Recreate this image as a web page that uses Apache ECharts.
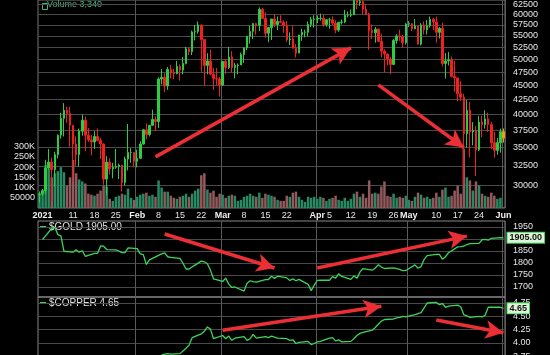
<!DOCTYPE html>
<html><head><meta charset="utf-8">
<script src="https://cdn.jsdelivr.net/npm/echarts@6.0.0/dist/echarts.min.js"></script>
<style>html,body{margin:0;padding:0;background:#000;}#chart{width:550px;height:355px;}</style>
</head><body><div id="chart"></div>
<script>
// ---------- DATA ----------
const firstDay = '2020-12-31';
// BTC daily OHLC, Dec 31 2020 .. Jun 1 2021
const btcOpen = [28900,
 29000,29400,32200,33000,32000,34000,36800,39400,40700,40200,38300,35500,34000,37400,39100,36800,36100,35800,36600,36000,35500,30800,33000,32100,32300,32400,32600,30400,33400,34300,34300,
 33100,33500,35500,37600,36900,38300,39200,38900,46200,46500,44900,48000,47400,47200,48600,47900,49200,52200,51600,55900,56000,57500,54200,48800,49700,47100,46300,46200,
 45100,49600,48400,50500,48400,48800,48900,51000,52400,54900,56000,57800,57400,61200,59000,55600,56900,58900,57600,58300,58100,57400,54100,54300,52300,51300,55200,55800,55800,57600,58800,
 58900,59000,59100,57600,58700,58700,57900,56300,58100,58200,59800,59800,59900,63500,62900,63200,61300,60000,56200,55700,56500,53800,51700,51100,50100,49000,54000,55000,54800,53500,
 57700,57800,56600,57200,53200,57500,56400,57300,58800,58200,55800,56700,49200,49700,49900,46700,46400,43500,42900,37000,40700,37300,37500,34700,38800,38400,39300,38400,35700,34600,35700,
 37300];
const btcHigh = [29300,
 29600,33300,34800,33600,34400,36900,40300,41900,41300,41300,38300,36600,37800,40000,39700,37900,36800,37400,37800,36400,35600,33800,33500,32900,34800,32800,32600,33700,38500,34900,34300,
 34700,35900,37700,38600,38300,40800,39700,46500,48100,47300,48500,48900,48100,49700,49000,50500,52600,52500,56200,57500,58300,57500,54200,51300,52000,48300,48300,46600,
 49700,50100,52600,51700,49300,49200,51400,52400,54900,57300,58000,58000,61700,61600,60500,56900,58900,60000,59500,59800,58600,58400,55800,57200,53200,55100,56600,56400,58300,59400,59800,
 59700,60200,59900,58900,59200,59500,58600,58200,58800,61100,60700,61200,63700,64800,63700,63500,62500,60400,57600,57000,56700,55500,52100,51200,50500,54300,55400,56400,55200,57900,
 58400,57900,58900,57200,57900,58300,58600,59500,59200,59500,57000,58000,51300,51500,50600,49700,46500,45800,43500,42400,42100,38800,38200,39800,39800,40700,40300,38800,37300,36400,37800,
 37800];
const btcLow = [28000,
 28800,29000,32000,28100,29900,33500,36300,36600,38700,35100,30500,32500,32400,36700,34500,35800,33900,34800,35900,33400,30100,28900,31400,30900,32100,30800,29300,30000,31900,32900,32300,
 32300,33400,35400,36200,36600,38200,37400,37900,45200,43800,44200,46300,46200,47100,45900,47100,49000,50900,50900,54000,55500,47600,45000,47100,46900,44200,45100,43000,
 45000,47100,48100,47500,46300,47100,48900,49300,51900,53300,54300,55300,56100,59000,54600,53600,54100,57000,56300,57900,55700,53700,53000,52300,50400,51300,53900,54700,54900,57000,56900,
 57900,58500,57100,57100,56600,57400,55600,55900,57600,57900,59300,59400,59900,61300,62100,60000,59900,52000,54300,53500,53700,50400,47500,48800,47100,48900,53300,53900,52400,53100,
 57000,56100,56500,53100,52900,55300,55300,56900,56300,53500,54400,48600,46300,48800,46500,43900,42200,42300,30100,35000,33600,35300,31200,34500,36500,37800,37300,34800,33600,34000,34300,
 35700];
const btcClose = [29000,
 29400,32200,33000,32000,34000,36800,39400,40700,40200,38300,35500,34000,37400,39100,36800,36100,35800,36600,36000,35500,30800,33000,32100,32300,32400,32600,30400,33400,34300,34300,33100,
 33500,35500,37600,36900,38300,39200,38900,46200,46500,44900,48000,47400,47200,48600,47900,49200,52200,51600,55900,56000,57500,54200,48800,49700,47100,46300,46200,45100,
 49600,48400,50500,48400,48800,48900,51000,52400,54900,56000,57800,57400,61200,59000,55600,56900,58900,57600,58300,58100,57400,54100,54300,52300,51300,55200,55800,55800,57600,58800,58900,
 59000,59100,57600,58700,58700,57900,56300,58100,58200,59800,59800,59900,63500,62900,63200,61300,60000,56200,55700,56500,53800,51700,51100,50100,49000,54000,55000,54800,53500,57700,
 57800,56600,57200,53200,57500,56400,57300,58800,58200,55800,56700,49200,49700,49900,46700,46400,43500,42900,37000,40700,37300,37500,34700,38800,38400,39300,38400,35700,34600,35700,37300,
 36365.36];
// Volume (thousands)
const btcVolumeK = [70,
 80,210,190,150,170,180,200,175,110,150,235,170,140,130,120,70,65,60,70,85,110,105,45,35,55,60,70,65,95,50,40,
 55,65,70,75,60,65,55,135,100,80,80,60,50,45,55,60,70,55,70,85,95,160,170,90,75,85,55,70,
 65,50,60,65,60,35,40,55,60,70,60,55,75,50,70,65,60,55,40,35,35,60,55,75,80,55,40,30,55,50,55,
 45,55,50,35,45,50,60,40,35,50,35,45,70,80,55,70,50,135,70,75,70,105,130,60,55,70,50,55,50,60,
 40,35,55,75,65,50,55,45,50,75,55,90,100,55,60,85,110,70,290,150,135,85,130,110,70,60,55,75,60,45,50,
 3.34];
// Gold & copper closes, one per weekday from Jan 1 2021 to Jun 1 2021
const goldClose = [
 1898,1944,1950,1918,1913,1849,1845,1855,1845,1851,1828,1840,1840,1871,1870,1856,1855,1850,1843,1843,1863,
 1860,1838,1835,1794,1813,1832,1838,1842,1826,1823,1819,1799,1775,1775,1784,1808,1805,1797,1770,1734,
 1723,1737,1712,1698,1700,1683,1716,1726,1722,1720,1731,1731,1745,1736,1745,1738,1727,1734,1726,1732,1711,1685,1708,
 1728,1729,1728,1743,1737,1755,1744,1732,1746,1736,1763,1777,1770,1779,1793,1783,1777,1780,1777,1773,1768,1769,
 1792,1778,1785,1815,1831,1836,1836,1816,1826,1843,1867,1868,1870,1877,1881,1882,1897,1898,1895,1903,1906,
 1905];
const copperClose = [
 3.52,3.58,3.62,3.70,3.70,3.67,3.61,3.63,3.65,3.66,3.61,3.61,3.61,3.64,3.65,3.61,3.62,3.62,3.58,3.57,3.55,
 3.55,3.55,3.59,3.59,3.64,3.72,3.77,3.79,3.80,3.79,3.80,3.85,3.90,3.96,4.10,4.17,4.22,4.30,4.26,4.08,
 4.14,4.08,4.13,4.05,4.09,4.12,4.05,4.08,4.16,4.09,4.12,4.10,4.13,4.11,4.09,4.08,4.05,4.06,3.99,4.01,4.03,3.97,3.99,
 4.02,4.03,4.09,4.10,4.04,4.06,4.02,4.03,4.08,4.14,4.18,4.20,4.24,4.29,4.35,4.41,4.44,4.45,4.47,4.48,4.50,4.49,
 4.53,4.55,4.57,4.66,4.75,4.76,4.72,4.74,4.67,4.69,4.71,4.68,4.53,4.51,4.48,4.50,4.49,4.52,4.67,4.67,4.67,
 4.65];
// Tick labels
const xTickDates = ['2021-01-01','2021-01-11','2021-01-18','2021-01-25','2021-02-01','2021-02-08','2021-02-15','2021-02-22','2021-03-01','2021-03-08','2021-03-15','2021-03-22','2021-04-01','2021-04-05','2021-04-12','2021-04-19','2021-04-26','2021-05-01','2021-05-10','2021-05-17','2021-05-24','2021-06-01'];
const xTickTexts = ['2021','11','18','25','Feb','8','15','22','Mar','8','15','22','Apr','5','12','19','26','May','10','17','24','Jun'];
const xTickBold = ['2021','Feb','Mar','Apr','May','Jun'];
const priceTicks = [30000,32500,35000,37500,40000,42500,45000,47500,50000,52500,55000,57500,60000,62500];
const volumeTicksK = [50,100,150,200,250,300];
const goldTicks = [1700,1750,1800,1850,1900,1950];
const goldLabelTicks = [1700,1750,1800,1850,1950];
const copperTicks = [3.75,4.00,4.25,4.50,4.75];
// Annotation arrows (data coordinates)
const priceArrows = [[['2021-02-07',33700],['2021-04-12',52400]],[['2021-04-21',45100],['2021-05-19',35000]]];
const goldArrows = [[['2021-02-10',1921],['2021-03-18',1779]],[['2021-04-01',1779],['2021-05-20',1912]]];
const copperArrows = [[['2021-03-01',4.24],['2021-04-22',4.69]],[['2021-05-10',4.43],['2021-06-01',4.19]]];

// ---------- BUILD ----------
const categories = [];
(function(){ const t0 = Date.parse(firstDay + 'T00:00:00Z');
  for (let i = 0; i < btcClose.length; i++) categories.push(new Date(t0 + i*864e5).toISOString().slice(0,10)); })();
const tradingDays = categories.filter(d => { const w = new Date(d + 'T00:00:00Z').getUTCDay(); return d >= '2021-01-01' && w !== 0 && w !== 6; });
const idxOf = d => categories.indexOf(d);

const UP = '#2ccc44', DOWN = '#f21f1f';
const candleData = categories.map((d,i) => {
  const item = { value: [Math.log(btcOpen[i]), Math.log(btcClose[i]), Math.log(btcLow[i]), Math.log(btcHigh[i])] };
  if (i === categories.length - 1) item.itemStyle = { color:'#f09a1c', color0:'#f09a1c', borderColor:'#f09a1c', borderColor0:'#f09a1c' };
  return item;
});
const volData = categories.map((d,i) => ({ value: btcVolumeK[i], itemStyle: { color: btcClose[i] >= btcOpen[i] ? '#268a62' : '#935a5e' } }));
const goldData = tradingDays.map((d,i) => [idxOf(d), goldClose[i]]);
const copperData = tradingDays.map((d,i) => [idxOf(d), copperClose[i]]);

const ARROW = '#ec2f35';
function arrowItems(list, tf) {
  return list.map(a => [
    { coord: [idxOf(a[0][0]), tf(a[0][1])], symbol: 'none' },
    { coord: [idxOf(a[1][0]), tf(a[1][1])], symbol: 'arrow', symbolSize: [14, 18] }
  ]);
}
const arrowMarkLine = (items, extra) => ({
  silent: true, animation: false,
  symbol: ['none','arrow'], symbolSize: [14,18],
  lineStyle: { color: ARROW, width: 3.5, type: 'solid' },
  label: { show: false },
  data: items.concat(extra || [])
});

const FONT = 'Liberation Sans, Arial, sans-serif';
const GRIDC = '#4a4a4a';
const monthStart = (i, v) => typeof v === 'string' && v.slice(8) === '01' && v >= '2021-02-01';
const G = { left: 38, width: 467 };

const baseX = (gi, showLabels) => ({
  type: 'category', gridIndex: gi, data: categories, boundaryGap: true,
  axisLine: { show: false }, axisTick: { show: false },
  splitLine: { show: true, interval: monthStart, lineStyle: { color: '#5a5a5a', width: 1 } },
  axisLabel: showLabels ? {
    show: true, interval: (i, v) => xTickDates.indexOf(v) >= 0, margin: 3,
    color: '#e6e6e6', fontSize: 9, fontFamily: FONT, hideOverlap: false,
    formatter: v => { const k = xTickDates.indexOf(v); if (k < 0) return ''; const t = xTickTexts[k]; return xTickBold.indexOf(t) >= 0 ? '{b|' + t + '}' : t; },
    rich: { b: { fontWeight: 'bold', fontSize: 9, color: '#f0f0f0', fontFamily: FONT } }
  } : { show: false }
});

const option = {
  backgroundColor: '#000',
  animation: false,
  textStyle: { fontFamily: FONT },
  grid: [
    Object.assign({ top: 0, height: 208, show: true, borderColor: '#777', borderWidth: 1, outerBoundsMode: 'none', containLabel: false }, G),
    Object.assign({ top: 221, height: 76, show: true, borderColor: '#888', borderWidth: 1, outerBoundsMode: 'none', containLabel: false }, G),
    Object.assign({ top: 297, height: 70, show: true, borderColor: '#888', borderWidth: 1, outerBoundsMode: 'none', containLabel: false }, G)
  ],
  xAxis: [ baseX(0, true), baseX(1, false), baseX(2, false) ],
  yAxis: [
    { type: 'value', gridIndex: 0, position: 'right', min: 10.2183, max: 11.0604, scale: true,
      axisLine: { show: false },
      axisTick: { show: false, customValues: priceTicks.map(Math.log) },
      splitLine: { show: true, lineStyle: { color: GRIDC } },
      axisLabel: { customValues: priceTicks.map(Math.log), margin: 8, color: '#e6e6e6', fontSize: 9, fontFamily: FONT,
        formatter: v => String(Math.round(Math.exp(v) / 100) * 100) } },
    { type: 'value', gridIndex: 0, position: 'left', min: 0, max: 1018,
      axisLine: { show: false }, splitLine: { show: false },
      axisTick: { show: false, customValues: volumeTicksK },
      axisLabel: { customValues: volumeTicksK, margin: 3, color: '#e6e6e6', fontSize: 9, fontFamily: FONT,
        formatter: v => v === 50 ? '50000' : v + 'K' } },
    { type: 'value', gridIndex: 1, position: 'right', min: 1658.3, max: 1975,
      axisLine: { show: false },
      axisTick: { show: false, customValues: goldTicks },
      splitLine: { show: true, lineStyle: { color: GRIDC } },
      axisLabel: { customValues: goldLabelTicks, margin: 8, color: '#e6e6e6', fontSize: 9, fontFamily: FONT,
        formatter: v => String(Math.round(v)) } },
    { type: 'value', gridIndex: 2, position: 'right', min: 3.549, max: 4.8626,
      axisLine: { show: false },
      axisTick: { show: false, customValues: copperTicks },
      splitLine: { show: true, lineStyle: { color: GRIDC } },
      axisLabel: { customValues: copperTicks, margin: 8, color: '#e6e6e6', fontSize: 9, fontFamily: FONT,
        formatter: v => v.toFixed(2) } }
  ],
  series: [
    { type: 'bar', name: 'Volume', xAxisIndex: 0, yAxisIndex: 1, data: volData, barCategoryGap: '18%', z: 1,
      markLine: { silent: true, symbol: 'none', lineStyle: { opacity: 0 },
        label: { show: true, position: 'end', distance: 4, formatter: '3340', color: '#e8e8e8', fontSize: 9, fontFamily: FONT,
          backgroundColor: '#12301f', borderColor: '#6fb58f', borderWidth: 1, padding: [1, 2, 0, 2] },
        data: [{ yAxis: btcVolumeK[btcVolumeK.length - 1] }] } },
    { type: 'candlestick', name: 'BTC', xAxisIndex: 0, yAxisIndex: 0, data: candleData, barWidth: 2, z: 3, clip: true,
      itemStyle: { color: UP, color0: DOWN, borderColor: UP, borderColor0: DOWN, borderWidth: 1 },
      markLine: arrowMarkLine(arrowItems(priceArrows, Math.log), [
        { yAxis: Math.log(btcClose[btcClose.length - 1]), symbol: 'none', lineStyle: { opacity: 0 },
          label: { show: true, position: 'end', distance: 4, formatter: '36365.36', color: '#f0f0f0', fontSize: 9, fontFamily: FONT,
            backgroundColor: '#1a2a1a', borderColor: '#8fb88f', borderWidth: 1, padding: [1, 2, 0, 2] } }
      ]) },
    { type: 'line', name: '$GOLD', xAxisIndex: 1, yAxisIndex: 2, data: goldData, showSymbol: false, symbol: 'none',
      lineStyle: { color: '#3cd45a', width: 1.3 }, itemStyle: { color: '#3cd45a' },
      endLabel: { show: true, distance: 4, formatter: '1905.00', color: '#111', fontWeight: 'bold', fontSize: 9, fontFamily: FONT,
        backgroundColor: '#dff3d8', borderColor: '#3cd45a', borderWidth: 1, padding: [1, 2, 0, 2] },
      markLine: arrowMarkLine(arrowItems(goldArrows, v => v)) },
    { type: 'line', name: '$COPPER', xAxisIndex: 2, yAxisIndex: 3, data: copperData, showSymbol: false, symbol: 'none',
      lineStyle: { color: '#3cd45a', width: 1.3 }, itemStyle: { color: '#3cd45a' },
      endLabel: { show: true, distance: 4, formatter: '4.65', color: '#111', fontWeight: 'bold', fontSize: 9, fontFamily: FONT,
        backgroundColor: '#dff3d8', borderColor: '#3cd45a', borderWidth: 1, padding: [1, 2, 0, 2] },
      markLine: arrowMarkLine(arrowItems(copperArrows, v => v)) }
  ],
  graphic: [
    { type: 'rect', left: 40, top: 1, shape: { width: 5, height: 6 }, style: { fill: 'none', stroke: '#45b585', lineWidth: 1 } },
    { type: 'text', left: 47, top: 0, style: { text: 'Volume 3,340', fill: '#45b585', font: '9px Liberation Sans, Arial, sans-serif' } },
    { type: 'line', shape: { x1: 40, y1: 227, x2: 46, y2: 227 }, style: { stroke: '#3cd45a', lineWidth: 2 } },
    { type: 'text', left: 49, top: 222, style: { text: '$GOLD 1905.00', fill: '#e0e0e0', font: '10px Liberation Sans, Arial, sans-serif' } },
    { type: 'line', shape: { x1: 40, y1: 303, x2: 46, y2: 303 }, style: { stroke: '#3cd45a', lineWidth: 2 } },
    { type: 'text', left: 49, top: 298, style: { text: '$COPPER 4.65', fill: '#e0e0e0', font: '10px Liberation Sans, Arial, sans-serif' } }
  ]
};
const chart = echarts.init(document.getElementById('chart'), null, { renderer: 'canvas' });
chart.setOption(option);
</script></body></html>
